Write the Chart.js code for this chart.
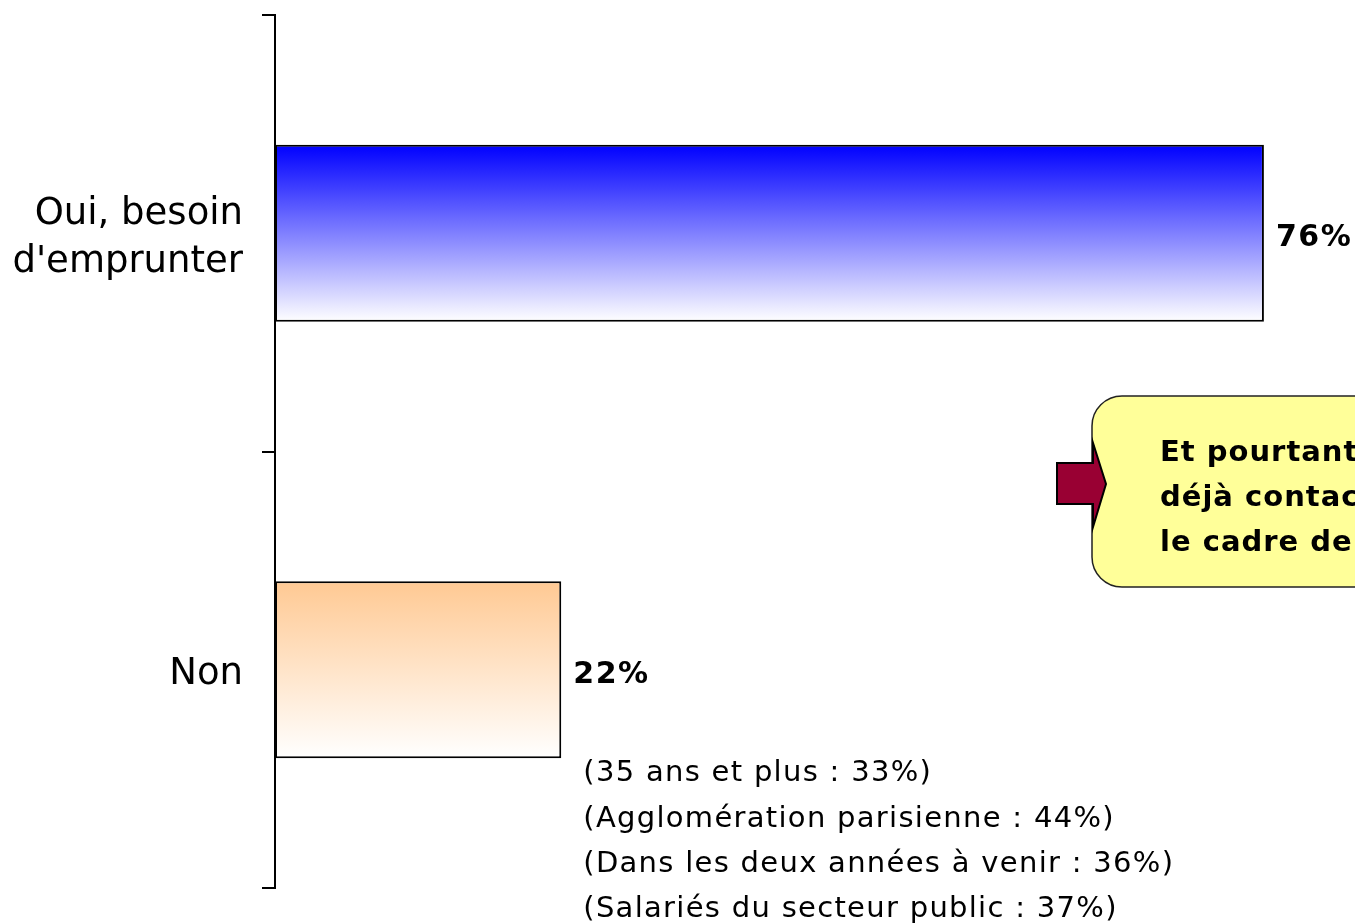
<!DOCTYPE html>
<html>
<head>
<meta charset="utf-8">
<script src="https://cdn.jsdelivr.net/npm/chart.js@4"></script>
<style>
  html, body { margin: 0; padding: 0; background: #fff; }
  #wrap { width: 1355px; height: 923px; position: relative; }
</style>
</head>
<body>
<div id="wrap"><canvas id="chart"></canvas></div>
<script>
// donnees du graphique
const categories = [["Oui, besoin", "d'emprunter"], "Non"];
const values = [76, 22];
const topColors = ['#0000ff', '#ffc993'];
const notesNon = [
  "(35 ans et plus : 33%)",
  "(Agglomération parisienne : 44%)",
  "(Dans les deux années à venir : 36%)",
  "(Salariés du secteur public : 37%)"
];
const calloutLines = ["Et pourtant", "déjà contacté", "le cadre de"];

//degrade vertical pour chaque barre
function barFill(ctx){
  const chart = ctx.chart;
  const area = chart.chartArea;
  if(!area) return topColors[ctx.dataIndex];
  const c = chart.scales.y.getPixelForValue(ctx.dataIndex);
  const half = (area.bottom - area.top) / categories.length * 0.405 / 2;
  const g = chart.ctx.createLinearGradient(0, c - half, 0, c + half);
  g.addColorStop(0, topColors[ctx.dataIndex]);
  g.addColorStop(1, '#ffffff');
  return g;
}

// etiquettes, notes et bulle
const extras = {
  id: 'extras',
  afterDraw(chart){
    const ctx = chart.ctx;
    const bars = chart.getDatasetMeta(0).data;
    ctx.save();
    ctx.fillStyle = '#000';
    ctx.textBaseline = 'middle';
    ctx.font = 'bold 30px "DejaVu Sans"';
    ctx.letterSpacing = '1.5px';
    bars.forEach((b, i) => {
      ctx.fillText(values[i] + '%', b.x + 12, b.y + 5);
    });

    // notes sous la barre "Non"
    const non = bars[1];
    ctx.font = '29px "DejaVu Sans"';
    ctx.letterSpacing = '1.3px';
    notesNon.forEach((t, i) => {
      ctx.fillText(t, non.x + 22, non.y + 104 + i * 45.3);
    });

    // bulle jaune
    const bx = 1092, by = 396, bw = 420, bh = 191, r = 30;
    ctx.beginPath();
    ctx.roundRect(bx, by, bw, bh, r);
    ctx.fillStyle = '#ffff99';
    ctx.fill();
    ctx.lineWidth = 1.5;
    ctx.strokeStyle = '#222';
    ctx.stroke();

    // fleche rouge
    ctx.beginPath();
    ctx.moveTo(1057, 463);
    ctx.lineTo(1093, 463);
    ctx.lineTo(1093, 443);
    ctx.lineTo(1106, 484);
    ctx.lineTo(1093, 527);
    ctx.lineTo(1093, 504);
    ctx.lineTo(1057, 504);
    ctx.closePath();
    ctx.fillStyle = '#990033';
    ctx.fill();
    ctx.lineWidth = 2;
    ctx.strokeStyle = '#000';
    ctx.stroke();

    ctx.fillStyle = '#000';
    ctx.font = 'bold 29px "DejaVu Sans"';
    ctx.letterSpacing = '1px';
    ctx.textBaseline = 'alphabetic';
    calloutLines.forEach((t, i) => {
      ctx.fillText(t, 1160, 461 + i * 45);
    });
    ctx.restore();
  }
};

new Chart(document.getElementById('chart').getContext('2d'), {
  type: 'bar',
  data: {
    labels: categories,
    datasets: [{
      data: values,
      backgroundColor: barFill,
      borderColor: '#000',
      borderWidth: 2,
      borderSkipped: false,
      barPercentage: 0.405,
      categoryPercentage: 1.0
    }]
  },
  options: {
    indexAxis: 'y',
    responsive: true,
    maintainAspectRatio: false,
    animation: false,
    layout: { padding: { top: 15, bottom: 35, left: 0, right: 0 } },
    plugins: { legend: { display: false }, tooltip: { enabled: false } },
    scales: {
      x: { display: false, min: 0, max: 83 },
      y: {
        border: { color: '#000', width: 2 },
        grid: { offset: true, drawOnChartArea: false, color: '#000', lineWidth: 2, tickLength: 13 },
        ticks: { color: '#000', font: { family: 'DejaVu Sans', size: 37, lineHeight: 1.28 }, padding: 19, labelOffset: 5 },
        afterFit: (scale) => {
          scale.width = 275;
          scale.paddingTop = 0;
          scale.paddingBottom = 0;
        }
      }
    }
  },
  plugins: [extras]
});
</script>
</body>
</html>
